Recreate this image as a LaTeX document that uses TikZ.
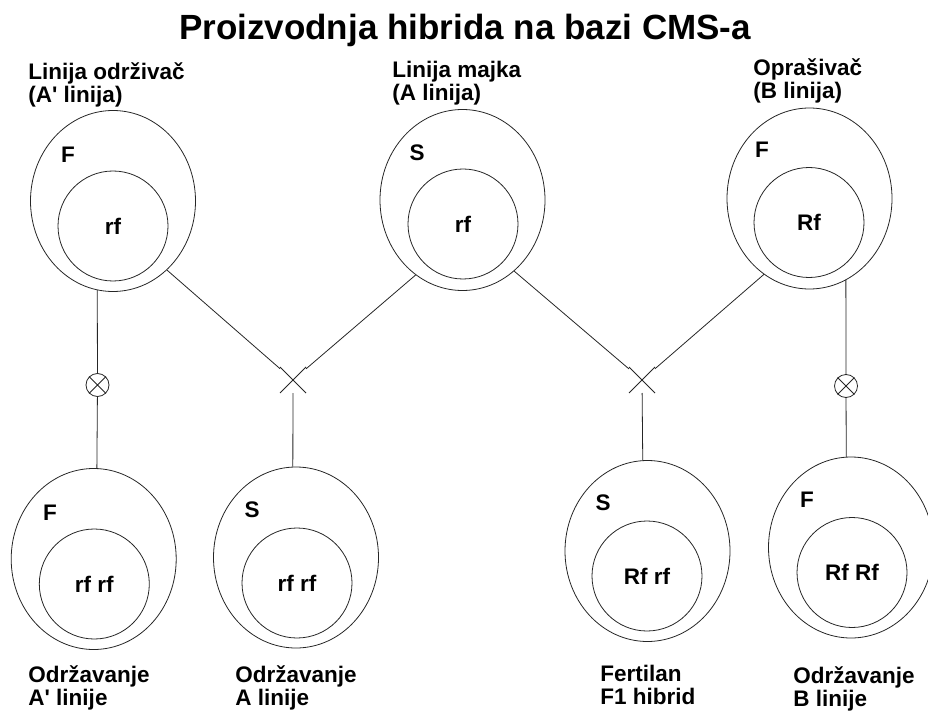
\documentclass[tikz,border=0pt]{standalone}
\usepackage{fontspec}
\setmainfont{Liberation Sans}
\usetikzlibrary{shapes.geometric,shapes.misc,positioning}

\begin{document}
\begin{tikzpicture}[x=1pt, y=-1pt, line width=0.8pt,
        plant/.style={ellipse, draw=black!85, minimum width=165pt, minimum height=181pt, inner sep=0pt},
        gene/.style={circle, draw=black!85, minimum size=110pt, inner sep=0pt, font=\fontsize{22.5}{24}\selectfont\bfseries},
        sterility/.style={inner sep=0pt, font=\fontsize{22.5}{24}\selectfont\bfseries},
        caption/.style={align=left, anchor=north west, inner sep=0pt, font=\fontsize{22.5}{23}\selectfont\bfseries},
        crossing/.style={cross out, draw=black!85, minimum size=20pt, inner sep=0pt, outer sep=3pt},
        selfing/.style={circle, draw=black!85, minimum size=23pt, inner sep=0pt},
        link/.style={draw=black!85}]

        \useasboundingbox (0,0) rectangle (928,711);

        \node[font=\fontsize{35}{40}\selectfont\bfseries] (title) at (465,30) {Proizvodnja hibrida na bazi CMS-a};

        % roditeljske linije
        \node[plant] (tAp) at (113,201) {};
        \node[gene] (tApg) at (113,226) {rf};
        \node[sterility] (tAps) at (68,155) {F};
        \node[caption] (tApl) at (28,62) {Linija održivač\\(A\textquotesingle{} linija)};

        \node[plant] (tA) at (462.5,200) {};
        \node[gene] (tAg) at (463,224) {rf};
        \node[sterility] (tAs) at (417,153) {S};
        \node[caption] (tAl) at (392,61) {Linija majka\\(A linija)};

        \node[plant] (tB) at (809.5,198.5) {};
        \node[gene] (tBg) at (809,222.5) {Rf};
        \node[sterility] (tBs) at (762,150) {F};
        \node[caption] (tBl) at (753,58) {Oprašivač\\(B linija)};

        % ukrstanja i samooplodnja
        \node[selfing] (o1) at (97.5,385) {};
        \draw[link] (o1.45) -- (o1.225) (o1.135) -- (o1.315);
        \node[crossing] (c1) at (293,380) {};
        \node[crossing] (c2) at (642,380) {};
        \node[selfing] (o2) at (846,386) {};
        \draw[link] (o2.45) -- (o2.225) (o2.135) -- (o2.315);

        % potomstvo
        \node[plant] (bAp) at (93.7,559) {};
        \node[gene] (bApg) at (94.3,584) {rf rf};
        \node[sterility] (bAps) at (50,513) {F};
        \node[caption] (bApl) at (28,665) {Održavanje\\A\textquotesingle{} linije};

        \node[plant] (bA) at (296,557.5) {};
        \node[gene] (bAg) at (297,583) {rf rf};
        \node[sterility] (bAs) at (252,510) {S};
        \node[caption] (bAl) at (235,665) {Održavanje\\A linije};

        \node[plant] (bF) at (647.5,551) {};
        \node[gene] (bFg) at (647,576) {Rf rf};
        \node[sterility] (bFs) at (603,503) {S};
        \node[caption] (bFl) at (600,665) {Fertilan\\F1 hibrid};

        \node[plant] (bB) at (851,547.5) {};
        \node[gene] (bBg) at (852,572.5) {Rf Rf};
        \node[sterility] (bBs) at (807,500) {F};
        \node[caption] (bBl) at (793,666) {Održavanje\\B linije};

        \draw[link] (tAp.260) -- (o1) -- (bAp.88);
        \draw[link] (tAp.308) -- (c1) -- (tA.238);
        \draw[link] (c1) -- (bA.92);
        \draw[link] (tA.306) -- (c2) -- (tB.239);
        \draw[link] (c2) -- (bF.93);
        \draw[link] (tB.294) -- (o2) -- (bB.93);
\end{tikzpicture}
\end{document}
